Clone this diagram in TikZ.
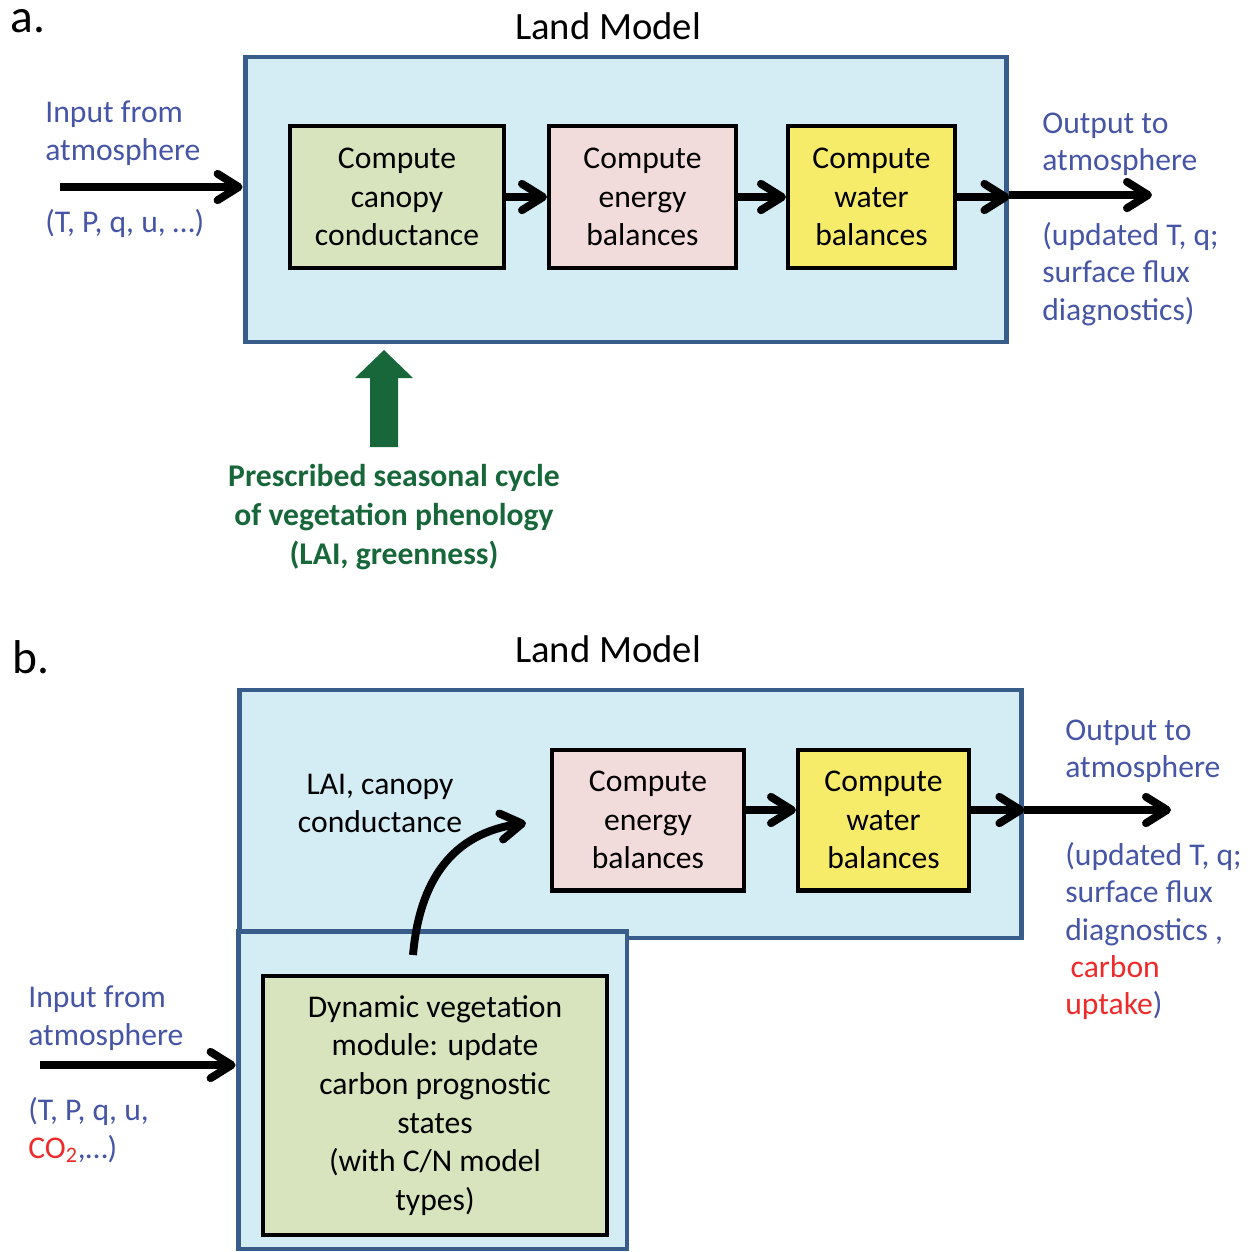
\documentclass[tikz,border=0pt]{standalone}
\usepackage{fontspec}
\setmainfont{Carlito}
\usetikzlibrary{arrows.meta,positioning}
\definecolor{modelblue}{HTML}{385D8A}
\definecolor{modelfill}{HTML}{D4ECF3}
\definecolor{condgreen}{HTML}{D7E4BD}
\definecolor{energypink}{HTML}{F2DCDB}
\definecolor{wateryellow}{HTML}{F7EC6A}
\definecolor{atmblue}{HTML}{4655A5}
\definecolor{carbred}{HTML}{EE2A2A}
\definecolor{phenogreen}{HTML}{17673A}
\tikzset{
  every node/.style={font=\fontsize{18}{22}\selectfont},
  model/.style={draw=modelblue, fill=modelfill, line width=2.8pt, inner sep=0pt},
  task/.style={draw=black, line width=2.3pt, align=center, inner sep=0pt},
  flow/.style={line width=4.5pt, -{Straight Barb[round,length=12pt,width=15pt]}},
  atm/.style={text=atmblue, align=left, anchor=west, inner sep=0pt, font=\fontsize{18}{21.3}\selectfont},
  panel/.style={anchor=base west, inner sep=0pt, text height=14pt, font=\fontsize{27}{32}\selectfont},
  heading/.style={anchor=base, font=\fontsize{22}{26}\selectfont}
}
\begin{document}
\begin{tikzpicture}[x=0.02cm, y=-0.02cm]
\useasboundingbox (0,0) rectangle (1254,1251);
\node[panel] (la) at (10,32) {a.};
\node[heading] (ta) at (608,39) {Land Model};
\node[model, minimum width=15.24cm, minimum height=5.7cm] (lma) at (626,199.5) {};
\node[task, fill=condgreen, minimum width=4.28cm, minimum height=2.84cm] (ca) at (397,197) {Compute\\canopy\\conductance};
\node[task, fill=energypink, minimum width=3.74cm, minimum height=2.84cm] (ea) at (642.5,197) {Compute\\energy\\balances};
\node[task, fill=wateryellow, minimum width=3.34cm, minimum height=2.84cm] (wa) at (871.5,197) {Compute\\water\\balances};
\node[atm] (ia) at (45,133) {Input from\\atmosphere};
\node[atm] (pa) at (45,223) {(T, P, q, u, …)};
\node[atm] (oa) at (1042,144.5) {Output to\\atmosphere};
\node[atm] (da) at (1042,274) {(updated T, q;\\surface flux\\diagnostics)};
\coordinate (ina) at (60,187);
\coordinate (outa) at (1152,195);
\draw[flow] (ina) -- (ina -| lma.west);
\draw[flow] (ca) -- (ea);
\draw[flow] (ea) -- (wa);
\draw[flow] (wa) -- (wa -| lma.east);
\draw[flow] (lma.east |- outa) -- (outa);
\node[align=center, text=phenogreen, font=\fontsize{18}{22}\selectfont\bfseries] (ph) at (394,517) {Prescribed seasonal cycle\\of vegetation phenology\\(LAI, greenness)};
\fill[phenogreen] (370,447) -- (370,378) -- (355,378) -- (384,350) -- (413,378) -- (398,378) -- (398,447) -- cycle;

\node[panel] (lb) at (12,673) {b.};
\node[heading] (tb) at (608,662) {Land Model};
\node[model, minimum width=15.66cm, minimum height=4.96cm] (lmb) at (630.5,814) {};
\node[model, minimum width=7.78cm, minimum height=6.36cm] (vmb) at (432.5,1090) {};
\node[task, fill=condgreen, minimum width=6.88cm, minimum height=5.18cm] (vb) at (435,1105.5) {Dynamic vegetation\\module: update\\carbon prognostic\\states\\(with C/N model\\types)};
\node[task, fill=energypink, minimum width=3.84cm, minimum height=2.82cm] (eb) at (648,820) {Compute\\energy\\balances};
\node[task, fill=wateryellow, minimum width=3.42cm, minimum height=2.82cm] (wb) at (883.5,820) {Compute\\water\\balances};
\node[align=center, inner sep=0pt, font=\fontsize{18}{21.3}\selectfont] (lc) at (380,803.5) {LAI, canopy\\conductance};
\node[atm] (ib) at (28,1018) {Input from\\atmosphere};
\node[atm] (pb) at (28,1130) {(T, P, q, u,\\\textcolor{carbred}{CO\textsubscript{2}},…)};
\node[atm] (ob) at (1065,751.5) {Output to\\atmosphere};
\node[atm] (db) at (1065,931) {(updated T, q;\\surface flux\\diagnostics ,\\\hspace*{3pt}\textcolor{carbred}{carbon}\\\textcolor{carbred}{uptake})};
\coordinate (inb) at (40,1065);
\coordinate (outb) at (1171,810);
\coordinate (laib) at (413,955);
\draw[flow] (inb) -- (inb -| vmb.west);
\draw[flow] ([yshift=0.2cm]eb.east) -- ([yshift=0.2cm]wb.west);
\draw[flow] ([yshift=0.2cm]wb.east) -- ([yshift=0.2cm]wb.east -| lmb.east);
\draw[flow] (lmb.east |- outb) -- (outb);
\draw[flow] (laib) to[out=85, in=188, looseness=1.1] ([xshift=-0.48cm, yshift=-0.06cm]eb.west);
\end{tikzpicture}
\end{document}
